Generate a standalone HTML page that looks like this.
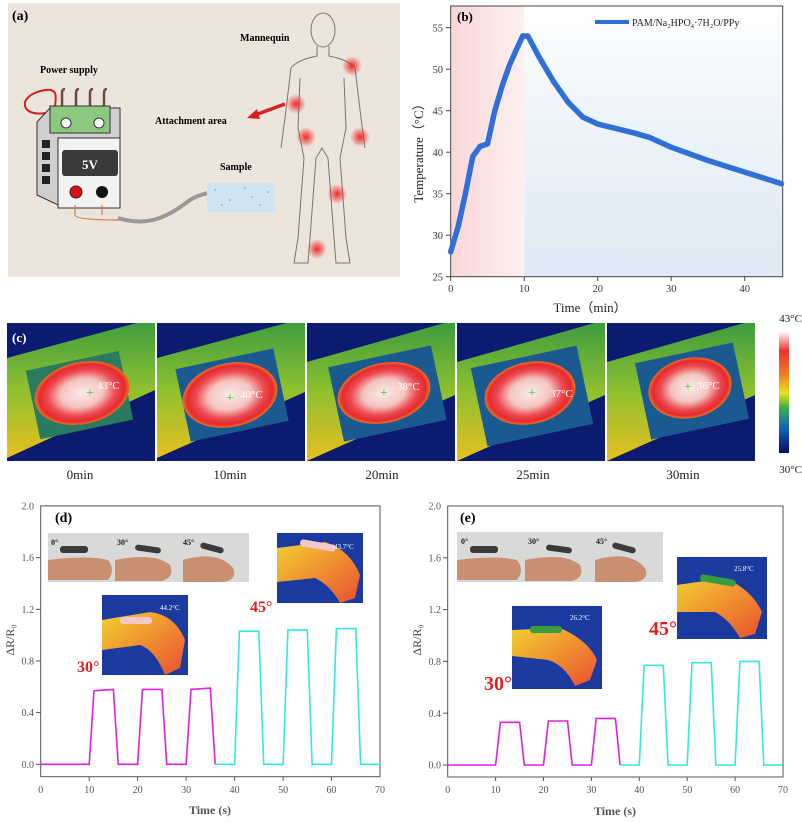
<!DOCTYPE html>
<html><head><meta charset="utf-8"><style>
html,body{margin:0;padding:0;background:#fff;}
svg{display:block;font-family:"Liberation Serif",serif;}
</style></head><body>
<svg width="802" height="823" viewBox="0 0 802 823" xmlns="http://www.w3.org/2000/svg">
<defs>
<linearGradient id="pk" x1="0" y1="0" x2="1" y2="0"><stop offset="0" stop-color="#f9d6d6"/><stop offset="1" stop-color="#fdf0f0"/></linearGradient>
<linearGradient id="bl" x1="0" y1="0" x2="0" y2="1"><stop offset="0" stop-color="#ffffff"/><stop offset="0.4" stop-color="#eef4fa"/><stop offset="1" stop-color="#dde9f5"/></linearGradient>
<radialGradient id="hot"><stop offset="0" stop-color="#f8ece8"/><stop offset="0.45" stop-color="#f4c4c0"/><stop offset="0.72" stop-color="#ec4a50"/><stop offset="0.9" stop-color="#e42a30"/><stop offset="1" stop-color="#f07020"/></radialGradient>
<radialGradient id="glow"><stop offset="0" stop-color="#f02020" stop-opacity="0.95"/><stop offset="1" stop-color="#f02020" stop-opacity="0"/></radialGradient>
<linearGradient id="cb" x1="0" y1="0" x2="0" y2="1"><stop offset="0" stop-color="#fbeeee"/><stop offset="0.15" stop-color="#ee3030"/><stop offset="0.35" stop-color="#f08020"/><stop offset="0.5" stop-color="#e8e020"/><stop offset="0.62" stop-color="#40b040"/><stop offset="0.8" stop-color="#1060c0"/><stop offset="1" stop-color="#0a0a60"/></linearGradient>
<linearGradient id="band" x1="0" y1="0" x2="0" y2="1"><stop offset="0" stop-color="#3a9a40"/><stop offset="0.5" stop-color="#8cc030"/><stop offset="1" stop-color="#e8c020"/></linearGradient>
<linearGradient id="arm" x1="0" y1="0" x2="1" y2="1"><stop offset="0" stop-color="#f0d030"/><stop offset="0.5" stop-color="#f09030"/><stop offset="1" stop-color="#e85030"/></linearGradient>
<clipPath id="c0"><rect x="7" y="323" width="148" height="138"/></clipPath>
<clipPath id="c1"><rect x="157" y="323" width="148" height="138"/></clipPath>
<clipPath id="c2"><rect x="307" y="323" width="148" height="138"/></clipPath>
<clipPath id="c3"><rect x="457" y="323" width="148" height="138"/></clipPath>
<clipPath id="c4"><rect x="607" y="323" width="148" height="138"/></clipPath>
</defs>

<!-- Panel (a) -->
<rect x="8" y="3" width="392" height="274" fill="#ebe5dc"/>
<text x="12" y="20" font-size="14" font-weight="bold">(a)</text>
<text x="40" y="73" font-size="10" font-weight="bold">Power supply</text>
<text x="240" y="41" font-size="10" font-weight="bold">Mannequin</text>
<text x="155" y="124" font-size="10" font-weight="bold">Attachment area</text>
<text x="220" y="170" font-size="10" font-weight="bold">Sample</text>
<path d="M50 112 C20 120,15 95,45 90 C60 88,55 100,55 108" fill="none" stroke="#d02020" stroke-width="2"/>
<g stroke="#6a4a3a" stroke-width="2.5" fill="none"><path d="M62 108 V93 q0-4 3-4"/><path d="M76 108 V93 q0-4 3-4"/><path d="M90 108 V93 q0-4 3-4"/><path d="M104 108 V93 q0-4 3-4"/></g>
<polygon points="37,122 50,108 120,108 120,138 58,138 58,205 37,195" fill="#cfcfcf" stroke="#333" stroke-width="1"/>
<rect x="50" y="106" width="60" height="27" fill="#8cc880" stroke="#333"/>
<circle cx="66" cy="123" r="5" fill="#fff" stroke="#333"/><circle cx="99" cy="123" r="5" fill="#fff" stroke="#333"/>
<rect x="58" y="138" width="62" height="70" fill="#f2f2f2" stroke="#333"/>
<rect x="62" y="150" width="56" height="26" rx="3" fill="#3a3a3a"/>
<text x="90" y="169" font-size="13" font-weight="bold" fill="#fff" text-anchor="middle">5V</text>
<g fill="#222"><rect x="42" y="140" width="8" height="8"/><rect x="42" y="152" width="8" height="8"/><rect x="42" y="164" width="8" height="8"/><rect x="42" y="176" width="8" height="8"/></g>
<circle cx="76" cy="192" r="6" fill="#e01010" stroke="#222"/><circle cx="102" cy="192" r="6" fill="#111"/>
<path d="M75 205 v10 q0 5 45 5 M102 205 v10" fill="none" stroke="#d08040" stroke-width="1.2"/>
<path d="M118 218 C150 228,170 215,190 200 C198 195,202 195,207 193" fill="none" stroke="#999" stroke-width="4"/>
<rect x="207" y="183" width="68" height="29" fill="#cfe4f2"/>
<g fill="#556" opacity="0.6"><circle cx="215" cy="190" r="0.8"/><circle cx="230" cy="200" r="0.8"/><circle cx="245" cy="188" r="0.8"/><circle cx="260" cy="205" r="0.8"/><circle cx="268" cy="192" r="0.8"/><circle cx="222" cy="205" r="0.8"/><circle cx="252" cy="197" r="0.8"/></g>
<g fill="none" stroke="#777" stroke-width="1">
<ellipse cx="323" cy="30" rx="12" ry="17"/>
<path d="M317 46 v10 q-20 4-26 12 l-6 50 -4 30 M329 46 v10 q20 4 26 12 l6 50 4 30"/>
<path d="M300 78 l-2 50 6 30 -6 80 -4 25 h14 l2-25 6-80 6-10 6 10 6 80 2 25 h14 l-4-25 -6-80 6-30 -2-50"/>
</g>
<circle cx="352" cy="66" r="10" fill="url(#glow)"/><circle cx="296" cy="104" r="10" fill="url(#glow)"/><circle cx="306" cy="137" r="10" fill="url(#glow)"/><circle cx="360" cy="137" r="10" fill="url(#glow)"/><circle cx="337" cy="194" r="10" fill="url(#glow)"/><circle cx="317" cy="249" r="10" fill="url(#glow)"/>
<path d="M285 104 L255 115" stroke="#d82020" stroke-width="3.5"/><polygon points="247,118 257,109 260,119" fill="#d82020"/>

<!-- Panel (b) -->
<rect x="451" y="6" width="73.5" height="271" fill="url(#pk)"/>
<rect x="524.5" y="6" width="258" height="271" fill="url(#bl)"/>
<rect x="450.7" y="6" width="332" height="270.7" fill="none" stroke="#444" stroke-width="1"/>
<g stroke="#444" stroke-width="1">
<line x1="446" y1="276.7" x2="450.7" y2="276.7"/><line x1="446" y1="235.2" x2="450.7" y2="235.2"/><line x1="446" y1="193.7" x2="450.7" y2="193.7"/><line x1="446" y1="152.2" x2="450.7" y2="152.2"/><line x1="446" y1="110.7" x2="450.7" y2="110.7"/><line x1="446" y1="69.2" x2="450.7" y2="69.2"/><line x1="446" y1="27.7" x2="450.7" y2="27.7"/>
<line x1="450.7" y1="276.7" x2="450.7" y2="281"/><line x1="524.2" y1="276.7" x2="524.2" y2="281"/><line x1="597.7" y1="276.7" x2="597.7" y2="281"/><line x1="671.2" y1="276.7" x2="671.2" y2="281"/><line x1="744.7" y1="276.7" x2="744.7" y2="281"/>
</g>
<g font-size="10.5" fill="#333" text-anchor="end">
<text x="443" y="280.5">25</text><text x="443" y="239">30</text><text x="443" y="197.5">35</text><text x="443" y="156">40</text><text x="443" y="114.5">45</text><text x="443" y="73">50</text><text x="443" y="31.5">55</text></g>
<g font-size="10.5" fill="#333" text-anchor="middle">
<text x="450.7" y="292">0</text><text x="524.2" y="292">10</text><text x="597.7" y="292">20</text><text x="671.2" y="292">30</text><text x="744.7" y="292">40</text></g>
<text x="590" y="312" font-size="13" text-anchor="middle" fill="#222">Time（min）</text>
<text transform="translate(423,150) rotate(-90)" font-size="13" text-anchor="middle" fill="#222">Temperature（°C）</text>
<text x="457" y="21" font-size="13" font-weight="bold">(b)</text>
<line x1="595" y1="22" x2="629" y2="22" stroke="#2f6fd6" stroke-width="4"/>
<text x="632" y="26" font-size="10" fill="#222">PAM/Na₂HPO₄·7H₂O/PPy</text>
<polyline fill="none" stroke="#2f6fd6" stroke-width="5.5" stroke-linejoin="round" stroke-linecap="round" points="450.7,251.8 458.1,226.9 465.4,193.7 472.8,156.4 480.1,146.4 487.5,143.9 494.8,110.7 502.2,85.8 509.5,65.1 516.9,48.5 522.7,36 527.9,36 538.9,56.7 553.6,81.6 568.3,102.4 583,117.3 597.7,124 634.5,133.1 649.2,137.3 671.2,147.2 708,160.5 744.7,172.1 781.5,183.7"/>

<!-- Panel (c) -->
<g clip-path="url(#c0)">
<rect x="7" y="323" width="148" height="138" fill="#0c1a70"/>
<polygon points="7,358 155,318 155,390 7,458" fill="url(#band)"/>
<rect x="32" y="360" width="95" height="70" fill="#2a7a60" transform="rotate(-12 80 395)"/>
<ellipse cx="82" cy="393" rx="48" ry="31" fill="url(#hot)" transform="rotate(-12 82 393)"/>
</g>
<g clip-path="url(#c1)">
<rect x="157" y="323" width="148" height="138" fill="#0c1a70"/>
<polygon points="157,358 305,318 305,392 157,458" fill="url(#band)"/>
<rect x="182" y="358" width="100" height="74" fill="#1a5a90" transform="rotate(-12 232 395)"/>
<ellipse cx="230" cy="395" rx="48" ry="32" fill="url(#hot)" transform="rotate(-12 230 395)"/>
</g>
<g clip-path="url(#c2)">
<rect x="307" y="323" width="148" height="138" fill="#0c1a70"/>
<polygon points="307,362 455,320 455,395 307,461" fill="url(#band)"/>
<rect x="335" y="356" width="105" height="76" fill="#1a5a90" transform="rotate(-12 385 394)"/>
<ellipse cx="384" cy="393" rx="47" ry="30" fill="url(#hot)" transform="rotate(-12 384 393)"/>
</g>
<g clip-path="url(#c3)">
<rect x="457" y="323" width="148" height="138" fill="#0c1a70"/>
<polygon points="457,362 605,320 605,395 457,461" fill="url(#band)"/>
<rect x="478" y="356" width="108" height="80" fill="#1a5a90" transform="rotate(-12 532 396)"/>
<ellipse cx="530" cy="393" rx="46" ry="31" fill="url(#hot)" transform="rotate(-12 530 393)"/>
</g>
<g clip-path="url(#c4)">
<rect x="607" y="323" width="148" height="138" fill="#0c1a70"/>
<polygon points="607,362 755,320 755,395 607,461" fill="url(#band)"/>
<rect x="642" y="352" width="100" height="78" fill="#1a5a90" transform="rotate(-12 692 391)"/>
<ellipse cx="690" cy="388" rx="42" ry="30" fill="url(#hot)" transform="rotate(-12 690 388)"/>
</g>
<g fill="#3c3" font-size="14" text-anchor="middle"><text x="90" y="442" dy="-45">+</text><text x="230" y="447" dy="-45">+</text><text x="384" y="442" dy="-45">+</text><text x="532" y="442" dy="-45">+</text><text x="688" y="436" dy="-45">+</text></g>
<g fill="#fff" font-size="11"><text x="97" y="389">43°C</text><text x="240" y="398">40°C</text><text x="397" y="390">38°C</text><text x="550" y="397">37°C</text><text x="697" y="389">36°C</text></g>
<text x="12" y="342" font-size="13" font-weight="bold" fill="#fff">(c)</text>
<g font-size="13" text-anchor="middle" fill="#222"><text x="80" y="479">0min</text><text x="230" y="479">10min</text><text x="382" y="479">20min</text><text x="533" y="479">25min</text><text x="683" y="479">30min</text></g>
<rect x="779" y="333" width="10" height="120" fill="url(#cb)"/>
<text x="802" y="322" font-size="11" text-anchor="end" fill="#222">43°C</text>
<text x="802" y="473" font-size="11" text-anchor="end" fill="#222">30°C</text>

<!-- Panel (d) -->
<rect x="40.7" y="505.9" width="339.3" height="270.8" fill="none" stroke="#555" stroke-width="1"/>
<g stroke="#555"><line x1="36" y1="764.3" x2="40.7" y2="764.3"/><line x1="36" y1="712.6" x2="40.7" y2="712.6"/><line x1="36" y1="660.9" x2="40.7" y2="660.9"/><line x1="36" y1="609.3" x2="40.7" y2="609.3"/><line x1="36" y1="557.6" x2="40.7" y2="557.6"/>
<line x1="89.2" y1="776.7" x2="89.2" y2="781"/><line x1="137.6" y1="776.7" x2="137.6" y2="781"/><line x1="186.1" y1="776.7" x2="186.1" y2="781"/><line x1="234.6" y1="776.7" x2="234.6" y2="781"/><line x1="283.1" y1="776.7" x2="283.1" y2="781"/><line x1="331.5" y1="776.7" x2="331.5" y2="781"/></g>
<g font-size="10" fill="#555" text-anchor="end"><text x="34" y="768">0.0</text><text x="34" y="716">0.4</text><text x="34" y="664.5">0.8</text><text x="34" y="613">1.2</text><text x="34" y="561">1.6</text><text x="34" y="509.5">2.0</text></g>
<g font-size="10" fill="#555" text-anchor="middle"><text x="40.7" y="793">0</text><text x="89.2" y="793">10</text><text x="137.6" y="793">20</text><text x="186.1" y="793">30</text><text x="234.6" y="793">40</text><text x="283.1" y="793">50</text><text x="331.5" y="793">60</text><text x="380" y="793">70</text></g>
<text x="210" y="814" font-size="12" font-weight="bold" text-anchor="middle" fill="#555">Time (s)</text>
<text transform="translate(14,640) rotate(-90)" font-size="12" text-anchor="middle" fill="#444">ΔR/R₀</text>
<text x="55" y="522" font-size="14" font-weight="bold">(d)</text>
<polyline fill="none" stroke="#e020e0" stroke-width="1.6" points="40.7,764.3 89.2,764.3 94,690.7 113.4,689.4 118.2,764.3 137.6,764.3 142.5,689.4 161.9,689.4 166.7,764.3 186.1,764.3 191,689.4 210.3,688.1 215.2,764.3"/>
<polyline fill="none" stroke="#30e8e0" stroke-width="1.6" points="215.2,764.3 234.6,764.3 239.4,631.2 258.8,631.2 263.7,764.3 283.1,764.3 287.9,629.9 307.3,629.9 312.1,764.3 331.5,764.3 336.4,628.6 355.8,628.6 360.6,764.3 380,764.3"/>
<rect x="48" y="533" width="201" height="49" fill="#d9d9d7"/>
<g fill="#c89070"><path d="M48 560 q40-5 60 0 q8 10 0 20 h-60z"/><path d="M115 560 q40-8 55 5 q5 12-8 16 h-47z"/><path d="M183 560 q35-10 50 8 q5 12-10 14 h-40z"/></g>
<g fill="#3a3a3a"><rect x="60" y="546" width="28" height="7" rx="3"/><rect x="135" y="546" width="26" height="6" rx="3" transform="rotate(8 148 549)"/><rect x="200" y="545" width="24" height="6" rx="3" transform="rotate(15 212 548)"/></g>
<g font-size="8" font-weight="bold" fill="#222"><text x="51" y="545">0°</text><text x="117" y="545">30°</text><text x="183" y="545">45°</text></g>
<rect x="102" y="595" width="86" height="80" fill="#1a3aa0"/>
<path d="M102 620 L150 612 Q175 615 185 640 L180 668 L165 675 Q155 650 140 645 L102 650 Z" fill="url(#arm)"/>
<rect x="120" y="617" width="32" height="7" rx="3" fill="#f2c8c8"/>
<text x="160" y="610" font-size="7" fill="#fff">44.2°C</text>
<rect x="277" y="533" width="86" height="70" fill="#1a3aa0"/>
<path d="M277 548 L325 542 Q350 550 360 575 L355 598 L340 603 Q330 585 315 578 L277 582 Z" fill="url(#arm)"/>
<rect x="300" y="542" width="36" height="7" rx="3" fill="#f2c8c8" transform="rotate(10 318 545)"/>
<text x="334" y="549" font-size="7" fill="#fff">43.7°C</text>
<text x="77" y="672" font-size="16" font-weight="bold" fill="#e02020">30°</text>
<text x="250" y="612" font-size="16" font-weight="bold" fill="#e02020">45°</text>

<!-- Panel (e) -->
<rect x="447.7" y="506" width="335.3" height="271" fill="none" stroke="#555" stroke-width="1"/>
<g stroke="#555"><line x1="443" y1="765" x2="447.7" y2="765"/><line x1="443" y1="713.2" x2="447.7" y2="713.2"/><line x1="443" y1="661.4" x2="447.7" y2="661.4"/><line x1="443" y1="609.6" x2="447.7" y2="609.6"/><line x1="443" y1="557.8" x2="447.7" y2="557.8"/>
<line x1="495.6" y1="777" x2="495.6" y2="781"/><line x1="543.5" y1="777" x2="543.5" y2="781"/><line x1="591.4" y1="777" x2="591.4" y2="781"/><line x1="639.3" y1="777" x2="639.3" y2="781"/><line x1="687.2" y1="777" x2="687.2" y2="781"/><line x1="735.1" y1="777" x2="735.1" y2="781"/></g>
<g font-size="10" fill="#555" text-anchor="end"><text x="441" y="768.5">0.0</text><text x="441" y="717">0.4</text><text x="441" y="665">0.8</text><text x="441" y="613">1.2</text><text x="441" y="561.5">1.6</text><text x="441" y="509.5">2.0</text></g>
<g font-size="10" fill="#555" text-anchor="middle"><text x="447.7" y="793">0</text><text x="495.6" y="793">10</text><text x="543.5" y="793">20</text><text x="591.4" y="793">30</text><text x="639.3" y="793">40</text><text x="687.2" y="793">50</text><text x="735.1" y="793">60</text><text x="783" y="793">70</text></g>
<text x="615" y="815" font-size="12" font-weight="bold" text-anchor="middle" fill="#555">Time (s)</text>
<text transform="translate(421,640) rotate(-90)" font-size="12" text-anchor="middle" fill="#444">ΔR/R₀</text>
<text x="460" y="522" font-size="14" font-weight="bold">(e)</text>
<polyline fill="none" stroke="#e020e0" stroke-width="1.6" points="447.7,765 495.6,765 500.4,722.3 519.6,722.3 524.3,765 543.5,765 548.3,721 567.5,721 572.2,765 591.4,765 596.2,718.4 615.4,718.4 620.1,765"/>
<polyline fill="none" stroke="#30e8e0" stroke-width="1.6" points="620.1,765 639.3,765 644.1,665.3 663.3,665.3 668,765 687.2,765 692,662.7 711.2,662.7 715.9,765 735.1,765 739.9,661.4 759.1,661.4 763.8,765 783,765"/>
<rect x="457" y="532" width="206" height="50" fill="#d9d9d7"/>
<g fill="#c89070"><path d="M457 560 q40-5 60 0 q8 10 0 20 h-60z"/><path d="M525 560 q40-8 55 5 q5 12-8 16 h-47z"/><path d="M595 560 q35-10 50 8 q5 12-10 14 h-40z"/></g>
<g fill="#3a3a3a"><rect x="470" y="546" width="28" height="7" rx="3"/><rect x="546" y="546" width="26" height="6" rx="3" transform="rotate(8 559 549)"/><rect x="612" y="545" width="24" height="6" rx="3" transform="rotate(15 624 548)"/></g>
<g font-size="8" font-weight="bold" fill="#222"><text x="461" y="544">0°</text><text x="528" y="544">30°</text><text x="596" y="544">45°</text></g>
<rect x="512" y="606" width="90" height="83" fill="#1a3aa0"/>
<path d="M512 630 L560 628 Q588 640 597 660 L590 680 L575 686 Q565 665 548 660 L512 656 Z" fill="url(#arm)"/>
<rect x="530" y="626" width="32" height="7" rx="3" fill="#3a9a40"/>
<text x="570" y="620" font-size="7" fill="#fff">26.2°C</text>
<rect x="677" y="557" width="90" height="82" fill="#1a3aa0"/>
<path d="M677 585 L725 578 Q752 590 762 612 L755 634 L740 638 Q730 620 715 612 L677 612 Z" fill="url(#arm)"/>
<rect x="700" y="577" width="36" height="7" rx="3" fill="#3a9a40" transform="rotate(10 718 580)"/>
<text x="734" y="571" font-size="7" fill="#fff">25.8°C</text>
<text x="484" y="690" font-size="20" font-weight="bold" fill="#e02020">30°</text>
<text x="649" y="635" font-size="20" font-weight="bold" fill="#e02020">45°</text>
</svg>
</body></html>
